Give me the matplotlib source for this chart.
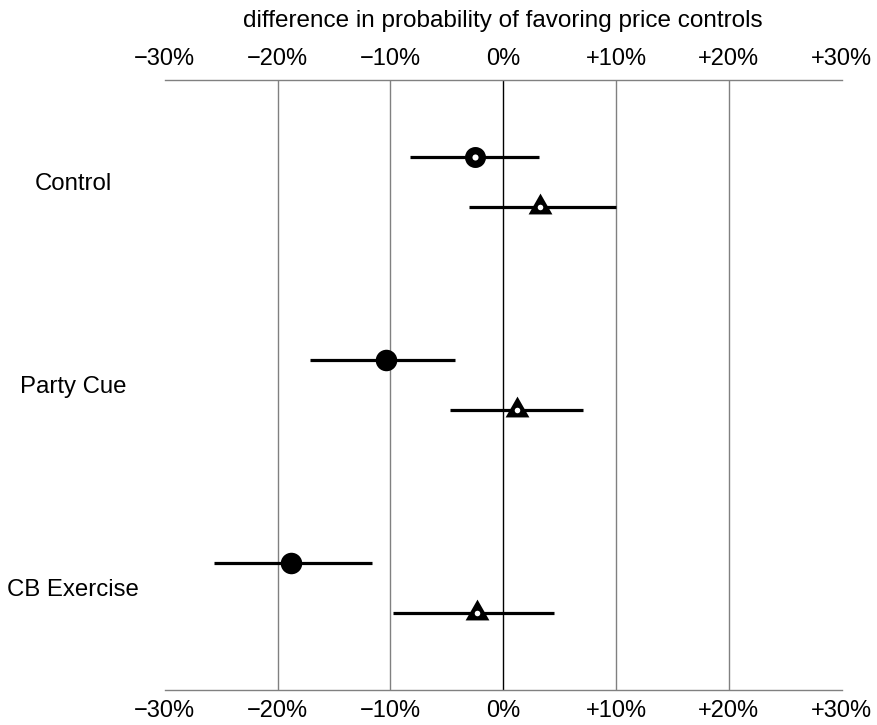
import matplotlib.pyplot as plt
import numpy as np

plt.rcParams['font.family'] = ['Liberation Sans', 'DejaVu Sans']

groups = ['Control', 'Party Cue', 'CB Exercise']
# first row of each group: circles (open for Control, filled otherwise)
circ_est = [-2.5, -10.4, -18.8]
circ_lo = [-8.3, -17.1, -25.6]
circ_hi = [3.2, -4.3, -11.6]
circ_filled = [False, True, True]
# second row: triangles
tri_est = [3.3, 1.2, -2.3]
tri_lo = [-3.0, -4.7, -9.8]
tri_hi = [10.0, 7.1, 4.5]

xticks = [-30, -20, -10, 0, 10, 20, 30]
xtick_labels = ['\u221230%', '\u221220%', '\u221210%', '0%', '+10%', '+20%', '+30%']

fig = plt.figure(figsize=(8.77, 7.25), dpi=100)
ax = fig.add_axes([0.1878, 0.0483, 0.7719, 0.8414])

off = 0.123
ypos = np.arange(len(groups))

# grid lines
for x in xticks[1:-1]:
    ax.axvline(x, color='black' if x == 0 else '#808080', lw=1.0, zorder=0)

# triangle marker with the point at the centroid
tri_marker = [(0, 14), (-12, -7), (12, -7), (0, 14)]

for i, y in enumerate(ypos):
    yc = y - off
    ax.plot([circ_lo[i], circ_hi[i]], [yc, yc], color='black', lw=2.3, solid_capstyle='butt', zorder=2)
    if circ_filled[i]:
        ax.plot(circ_est[i], yc, 'o', ms=15.5, mfc='black', mec='black', mew=0, zorder=3)
    else:
        ax.plot(circ_est[i], yc, 'o', ms=9.8, mfc='white', mec='black', mew=5.3, zorder=3)

    yt = y + off
    ax.plot([tri_lo[i], tri_hi[i]], [yt, yt], color='black', lw=2.3, solid_capstyle='butt', zorder=2)
    ax.plot(tri_est[i], yt, marker=tri_marker, ms=20, mfc='black', mec='black', mew=0, zorder=3)
    ax.plot(tri_est[i], yt, 'o', ms=4.0, mfc='white', mec='white', mew=0, zorder=4)

    ax.text(-0.135, y + 0.01, groups[i], transform=ax.get_yaxis_transform(),
            ha='center', va='center', fontsize=17.3)

ax.set_xlim(-30, 30)
ax.set_ylim(2.5, -0.5)
ax.set_yticks([])
ax.set_xticks(xticks)
ax.set_xticklabels(xtick_labels)
ax.tick_params(axis='x', which='both', length=0, labelsize=17, pad=7,
               top=True, labeltop=True, bottom=True, labelbottom=True)

for s in ['left', 'right']:
    ax.spines[s].set_visible(False)
for s in ['top', 'bottom']:
    ax.spines[s].set_color('#808080')
    ax.spines[s].set_linewidth(1.0)

ax.xaxis.set_label_position('top')
ax.set_xlabel('difference in probability of favoring price controls', fontsize=17.5, labelpad=15)

fig.savefig('out.png', dpi=100)
